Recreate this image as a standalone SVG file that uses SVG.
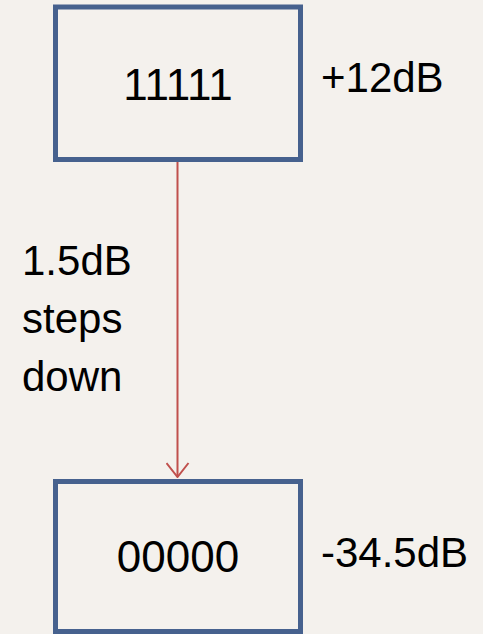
<svg xmlns="http://www.w3.org/2000/svg" width="483" height="634" viewBox="0 0 483 634">
<defs>
<style>
.box{fill:none;stroke:#46618e;stroke-width:5}
.t{font-family:"Liberation Sans",Arial,sans-serif;fill:#000}
.big{font-size:44px}
.lab{font-size:42px}
.conn{stroke:#c0504d;stroke-width:2;fill:none}
</style>
<marker id="arr" viewBox="0 0 16 24" refX="15" refY="12" markerWidth="16" markerHeight="24" markerUnits="userSpaceOnUse" orient="auto">
<path d="M1,1 L15,12 L1,23" fill="none" stroke="#c0504d" stroke-width="2"/>
</marker>
</defs>
<rect width="483" height="634" fill="#f4f1ed"/>
<g id="connectors">
<path class="conn" d="M177.5,162 L177.5,477" marker-end="url(#arr)"/>
</g>
<g id="node-top">
<rect class="box" x="55.5" y="7" width="245" height="152.5"/>
<text class="t big" x="178" y="100" text-anchor="middle">11111</text>
</g>
<g id="node-bottom">
<rect class="box" x="55.5" y="481.5" width="245" height="150"/>
<text class="t big" x="178" y="572" text-anchor="middle">00000</text>
</g>
<g id="labels">
<text class="t lab" x="321" y="92">+12dB</text>
<text class="t lab" x="321" y="567">-34.5dB</text>
<text class="t lab" x="22" y="275">1.5dB</text>
<text class="t lab" x="22" y="333">steps</text>
<text class="t lab" x="22" y="391">down</text>
</g>
</svg>
